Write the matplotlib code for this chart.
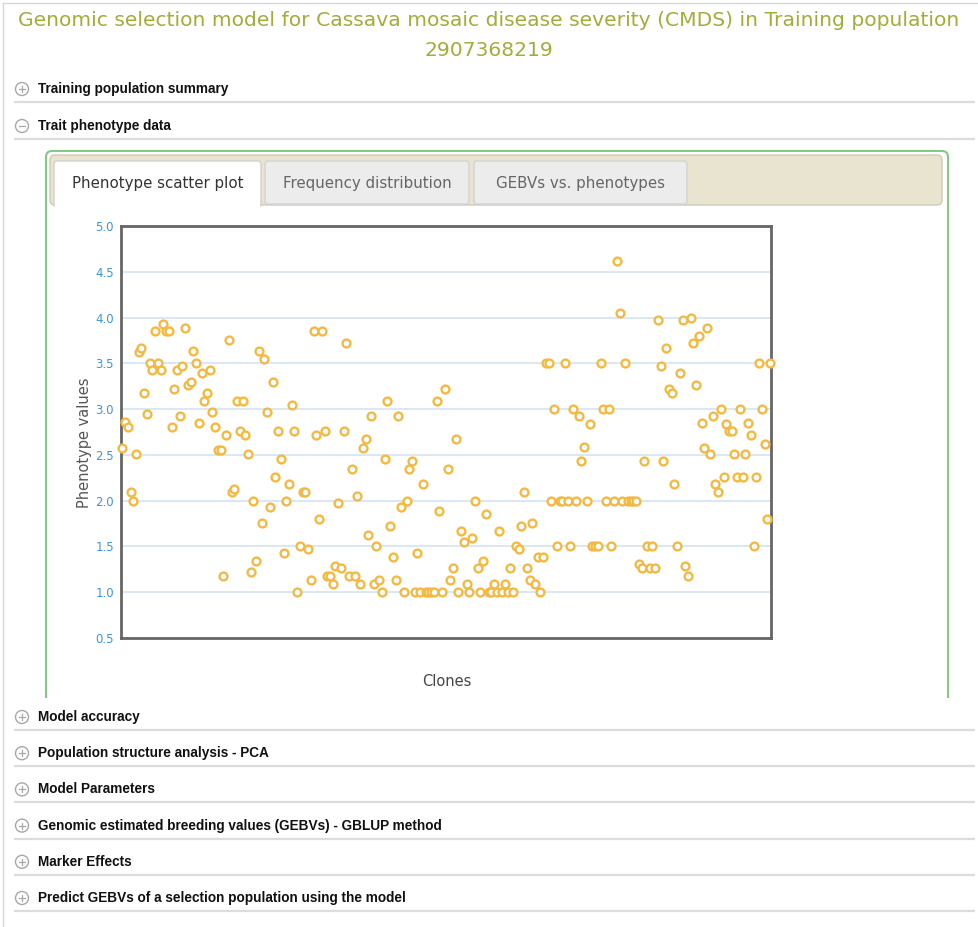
import matplotlib
matplotlib.use("Agg")
import matplotlib.pyplot as plt
from matplotlib.patches import FancyBboxPatch, Rectangle, Circle
from matplotlib import font_manager

# ---------------- data ----------------
title_line1 = "Genomic selection model for Cassava mosaic disease severity (CMDS) in Training population"
title_line2 = "2907368219"
sections_top = ["Training population summary", "Trait phenotype data"]
sections_bottom = ["Model accuracy", "Population structure analysis - PCA", "Model Parameters",
                   "Genomic estimated breeding values (GEBVs) - GBLUP method", "Marker Effects",
                   "Predict GEBVs of a selection population using the model"]
tabs = ["Phenotype scatter plot", "Frequency distribution", "GEBVs vs. phenotypes"]
y_ticks = [0.5, 1.0, 1.5, 2.0, 2.5, 3.0, 3.5, 4.0, 4.5, 5.0]
y_label = "Phenotype values"
x_label = "Clones"

phenotype_values = [
    2.58, 2.86, 2.80, 2.09, 2.0, 2.51, 3.62, 3.67, 3.18, 2.95,
    3.5, 3.43, 3.85, 3.5, 3.43, 3.93, 3.85, 3.85, 2.80, 3.22,
    3.43, 2.93, 3.47, 3.89, 3.26, 3.30, 3.63, 3.5, 2.85, 3.39,
    3.09, 3.18, 3.43, 2.97, 2.80, 2.55, 2.55, 1.18, 2.72, 3.76,
    2.09, 2.13, 3.09, 2.76, 3.09, 2.72, 2.51, 1.22, 2.0, 1.34,
    3.63, 1.76, 3.55, 2.97, 1.93, 3.30, 2.26, 2.76, 2.46, 1.43,
    2.0, 2.18, 3.05, 2.76, 1.0, 1.5, 2.09, 2.09, 1.47, 1.13,
    3.85, 2.72, 1.80, 3.85, 2.76, 1.18, 1.18, 1.09, 1.29, 1.97,
    1.26, 2.76, 3.72, 1.18, 2.35, 1.18, 2.05, 1.09, 2.58, 2.67,
    1.63, 2.92, 1.09, 1.5, 1.13, 1.0, 2.46, 3.09, 1.72, 1.39,
    1.13, 2.92, 1.93, 1.0, 2.0, 2.35, 2.43, 1.0, 1.43, 1.0,
    2.18, 1.0, 1.0, 1.0, 1.0, 3.09, 1.89, 1.0, 3.22, 2.35,
    1.13, 1.26, 2.67, 1.0, 1.67, 1.55, 1.09, 1.0, 1.59, 2.0,
    1.26, 1.0, 1.34, 1.85, 1.0, 1.0, 1.09, 1.0, 1.67, 1.0,
    1.09, 1.0, 1.26, 1.0, 1.5, 1.47, 1.72, 2.09, 1.26, 1.13,
    1.76, 1.09, 1.39, 1.0, 1.39, 3.5, 3.5, 2.0, 3.0, 1.5,
    2.0, 2.0, 3.5, 2.0, 1.5, 3.0, 2.0, 2.93, 2.43, 2.59,
    2.0, 2.84, 1.5, 1.5, 1.5, 3.5, 3.0, 2.0, 3.0, 1.5,
    2.0, 4.62, 4.05, 2.0, 3.5, 2.0, 2.0, 2.0, 2.0, 1.31,
    1.26, 2.43, 1.5, 1.26, 1.5, 1.26, 3.97, 3.47, 2.43, 3.67,
    3.22, 3.18, 2.18, 1.5, 3.39, 3.97, 1.29, 1.18, 4.0, 3.72,
    3.26, 3.80, 2.85, 2.58, 3.89, 2.51, 2.93, 2.18, 2.09, 3.0,
    2.26, 2.84, 2.76, 2.76, 2.51, 2.26, 3.0, 2.26, 2.51, 2.85,
    2.72, 1.5, 2.26, 3.5, 3.0, 2.62, 1.80, 3.5,
]
clones = list(range(1, len(phenotype_values) + 1))

# ---------------- fonts ----------------
names = {f.name for f in font_manager.fontManager.ttflist}
narrow = "Liberation Sans Narrow" if "Liberation Sans Narrow" in names else "Liberation Sans"
sec_size = 10.5 if narrow == "Liberation Sans Narrow" else 9.8

W, H = 979, 927
fig = plt.figure(figsize=(W / 100, H / 100), dpi=100)
fig.patch.set_facecolor("white")

pg = fig.add_axes([0, 0, 1, 1])
pg.set_xlim(0, W)
pg.set_ylim(H, 0)
pg.axis("off")

# page border
pg.plot([3, W], [3, 3], color="#d8d8d8", lw=1)
pg.plot([3, 3], [3, H], color="#d8d8d8", lw=1)

# title
title_color = "#a3ad3a"
pg.text(489, 20, title_line1, ha="center", va="center", fontsize=14.6, color=title_color,
        family="DejaVu Sans")
pg.text(489, 50, title_line2, ha="center", va="center", fontsize=14.6, color=title_color,
        family="DejaVu Sans")


def section(y, label, sign="+"):
    pg.add_patch(Circle((22, y), 6.5, facecolor="white", edgecolor="#a8a8a8", lw=1))
    pg.plot([19, 25], [y, y], color="#a8a8a8", lw=0.9)
    if sign == "+":
        pg.plot([22, 22], [y - 3, y + 3], color="#a8a8a8", lw=0.9)
    pg.text(38, y, label, ha="left", va="center", fontsize=sec_size, fontweight="bold",
            family=narrow, color="#111111")
    pg.plot([14, 975], [y + 13, y + 13], color="#dcdcdc", lw=1.6, solid_capstyle="butt")


section(89, sections_top[0], "+")
section(126, sections_top[1], "-")
for i, lab in enumerate(sections_bottom):
    section(717 + i * 36.2, lab, "+")

# green panel (open at the bottom)
panel = FancyBboxPatch((46, 151), 902, 600, boxstyle="round,pad=0,rounding_size=6",
                       facecolor="none", edgecolor="#86c986", lw=1.5)
pg.add_patch(panel)
clip = Rectangle((30, 140), 930, 558, transform=pg.transData)
panel.set_clip_path(clip)

# tab bar
pg.add_patch(FancyBboxPatch((50, 155), 892, 50, boxstyle="round,pad=0,rounding_size=5",
                            facecolor="#e8e4cf", edgecolor="#cfcbb8", lw=1))
tab_x = [(54, 261), (265, 469), (474, 687)]
for i, (t, (x0, x1)) in enumerate(zip(tabs, tab_x)):
    if i == 0:
        pg.add_patch(FancyBboxPatch((x0, 161), x1 - x0, 46, boxstyle="round,pad=0,rounding_size=3",
                                    facecolor="white", edgecolor="#d0d0d0", lw=1, zorder=2))
        pg.add_patch(Rectangle((x0 + 1, 203), x1 - x0 - 2, 5, facecolor="white",
                               edgecolor="none", zorder=2))
        col = "#333333"
    else:
        pg.add_patch(FancyBboxPatch((x0, 161), x1 - x0, 43, boxstyle="round,pad=0,rounding_size=3",
                                    facecolor="#ececec", edgecolor="#d3d3d3", lw=1, zorder=2))
        col = "#666666"
    pg.text((x0 + x1) / 2, 183, t, ha="center", va="center", fontsize=10.8, color=col,
            family="DejaVu Sans", zorder=3)

# ---------------- scatter axes ----------------
L, R, T, B = 121, 771, 226, 638
ax = fig.add_axes([L / W, 1 - B / H, (R - L) / W, (B - T) / H])
ax.set_facecolor("white")
ax.set_xlim(0.52, len(clones) + 0.37)
ax.set_ylim(0.5, 5.0)
ax.set_yticks(y_ticks)
ax.set_yticklabels([f"{v:.1f}" for v in y_ticks])
ax.set_xticks([])
ax.tick_params(axis="y", length=0, pad=5, labelsize=8.5, labelcolor="#3d95d8")
for sp in ax.spines.values():
    sp.set_color("#666666")
    sp.set_linewidth(2)
ax.grid(axis="y", color="#d3e4f4", lw=1.2)
ax.set_axisbelow(True)
ax.scatter(clones, phenotype_values, s=32, facecolor="white", edgecolor="#f4b942",
           linewidths=1.7, clip_on=False, zorder=3)

fig.text(85 / W, 1 - 443 / H, y_label, rotation=90, ha="center", va="center",
         fontsize=10.5, color="#555555", family="DejaVu Sans")
fig.text(447 / W, 1 - 681 / H, x_label, ha="center", va="center",
         fontsize=10.5, color="#444444", family="DejaVu Sans")

fig.savefig("out.png", dpi=100, facecolor="white")
